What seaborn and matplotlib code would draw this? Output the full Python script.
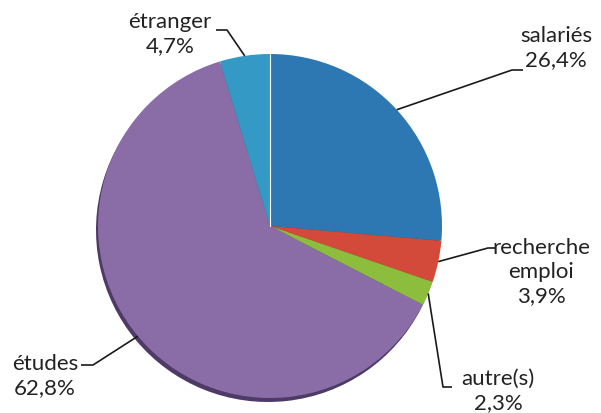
import numpy as np
import matplotlib.pyplot as plt
import seaborn as sns

# Data
categories = ["salariés", "recherche\nemploi", "autre(s)", "études", "étranger"]
shares = [26.4, 3.9, 2.3, 62.8, 4.7]
colors = ["#2d78b2", "#d34a3b", "#8dbd3c", "#8a6da6", "#3599c5"]
shadow_colors = ["#1d4f78", "#8a2e25", "#5c7d26", "#4e3a66", "#22658a"]

sns.set_style("white")
plt.rcParams["font.family"] = ["Lato", "DejaVu Sans"]

W, H = 601, 413
fig = plt.figure(figsize=(W / 100, H / 100), dpi=100)
ax = fig.add_axes([0, 0, 1, 1])

cx, cy, r = 270, H - 226, 172

# Dark rim under the pie (3D-ish shadow)
ax.pie(shares, colors=shadow_colors, startangle=90, counterclock=False,
       center=(cx - 2, cy - 4), radius=r, wedgeprops=dict(linewidth=0))
wedges, _ = ax.pie(shares, colors=colors, startangle=90, counterclock=False,
                   center=(cx, cy), radius=r, wedgeprops=dict(linewidth=0))
ax.set_xlim(0, W)
ax.set_ylim(0, H)
ax.set_aspect("equal")
ax.axis("off")
ax.plot([cx, cx], [cy, cy + r], color="white", lw=0.8)

# Label layout: text centre, alignment, elbow point, end of horizontal tick
layout = [
    dict(xy=(592, 48), ha="right", elbow=(512, 70), end=(523, 70)),
    dict(xy=(541, 272), ha="center", elbow=(488, 248), end=(496, 248)),
    dict(xy=(498, 391), ha="center", elbow=(443, 387), end=(452, 387)),
    dict(xy=(45, 376), ha="center", elbow=(93, 365), end=(81, 365)),
    dict(xy=(170, 34), ha="center", elbow=(227, 30), end=(216, 30)),
]

for w, cat, val, lay in zip(wedges, categories, shares, layout):
    mid = np.deg2rad((w.theta1 + w.theta2) / 2)
    px = cx + r * np.cos(mid)
    py = cy + r * np.sin(mid)
    ex, ey = lay["elbow"]
    tx, ty = lay["end"]
    ax.plot([px, ex, tx], [py, H - ey, H - ty], color="#1a1a1a", lw=1.2,
            solid_capstyle="butt")
    label = cat + "\n" + f"{val:.1f}%".replace(".", ",")
    x, y = lay["xy"]
    ax.text(x, H - y, label, ha=lay["ha"], va="center", fontsize=16,
            color="#222222", linespacing=1.25, multialignment="center")

fig.savefig("out.png", dpi=100)
